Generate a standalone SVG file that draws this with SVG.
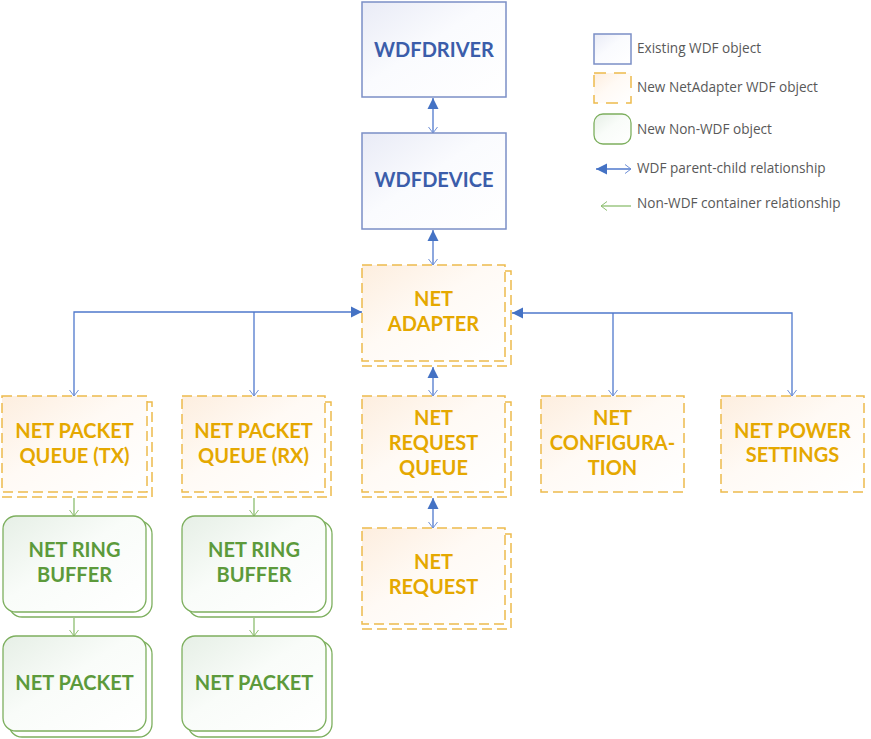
<svg xmlns="http://www.w3.org/2000/svg" width="871" height="739" viewBox="0 0 871 739">
<defs>
<linearGradient id="gb" x1="0" y1="0" x2="1" y2="1"><stop offset="0" stop-color="#E9EBF6"/><stop offset="0.45" stop-color="#FAFBFE"/><stop offset="1" stop-color="#FFFFFF"/></linearGradient>
<linearGradient id="go" x1="0" y1="0" x2="1" y2="1"><stop offset="0" stop-color="#FDEEDF"/><stop offset="0.45" stop-color="#FFFAF5"/><stop offset="1" stop-color="#FFFFFF"/></linearGradient>
<linearGradient id="gg" x1="0" y1="0" x2="1" y2="1"><stop offset="0" stop-color="#E6EFE6"/><stop offset="0.45" stop-color="#F9FCF9"/><stop offset="1" stop-color="#FFFFFF"/></linearGradient>
<marker id="fa" markerUnits="userSpaceOnUse" markerWidth="12" markerHeight="12" viewBox="0 0 12 12" refX="11" refY="6" orient="auto-start-reverse"><path d="M0,0.5 L11,6 L0,11.5 Z" fill="#4472C4"/></marker>
<marker id="oa" markerUnits="userSpaceOnUse" markerWidth="10" markerHeight="12" viewBox="0 0 10 12" refX="6" refY="6" orient="auto-start-reverse"><path d="M0,1.5 L6,6 L0,10.5" fill="none" stroke="#6E8FD6" stroke-width="1"/></marker>
<marker id="og" markerUnits="userSpaceOnUse" markerWidth="10" markerHeight="12" viewBox="0 0 10 12" refX="6" refY="6" orient="auto-start-reverse"><path d="M0,1.5 L6,6 L0,10.5" fill="none" stroke="#8DBE70" stroke-width="1"/></marker>
</defs>
<style>
.bb{fill:url(#gb);stroke:#7B8FC6;stroke-width:1.5}
.ob{fill:url(#go);stroke:#EDBB4C;stroke-width:1.5;stroke-dasharray:10 5}
.obk{fill:none;stroke:#EDBB4C;stroke-width:1.5;stroke-dasharray:10 5}
.gb{fill:url(#gg);stroke:#7DAF5E;stroke-width:1.3}
.gbk{fill:#FFFFFF;stroke:#7DAF5E;stroke-width:1.3}
.tb{font-family:Lato,"Open Sans",sans-serif;font-weight:bold;font-size:20px;fill:#3B5DAA;text-anchor:middle}
.to{font-family:Lato,"Open Sans",sans-serif;font-weight:bold;font-size:20px;fill:#E5A800;text-anchor:middle}
.tg{font-family:Lato,"Open Sans",sans-serif;font-weight:bold;font-size:20px;fill:#5C9A3B;text-anchor:middle}
.tl{font-family:"Open Sans","Noto Sans",sans-serif;font-size:13.6px;fill:#595959}
.cb{fill:none;stroke:#4F78CC;stroke-width:1.3}
.cg{fill:none;stroke:#8DBE70;stroke-width:1.3}
</style>
<g id="connectors">
<line class="cb" x1="433" y1="98" x2="433" y2="133" marker-start="url(#fa)" marker-end="url(#oa)"/>
<line class="cb" x1="433" y1="230" x2="433" y2="265" marker-start="url(#fa)" marker-end="url(#oa)"/>
<line class="cb" x1="433" y1="367" x2="433" y2="396" marker-start="url(#fa)" marker-end="url(#oa)"/>
<line class="cb" x1="433" y1="498" x2="433" y2="528" marker-start="url(#fa)" marker-end="url(#oa)"/>
<path class="cb" d="M74,396 V312 H362" marker-start="url(#oa)" marker-end="url(#fa)"/>
<path class="cb" d="M254,396 V312" marker-start="url(#oa)"/>
<path class="cb" d="M792,396 V313 H512" marker-start="url(#oa)" marker-end="url(#fa)"/>
<path class="cb" d="M613,396 V313" marker-start="url(#oa)"/>
<line class="cg" x1="74" y1="498" x2="74" y2="516" marker-end="url(#og)"/>
<line class="cg" x1="254" y1="498" x2="254" y2="516" marker-end="url(#og)"/>
<line class="cg" x1="74" y1="618" x2="74" y2="636" marker-end="url(#og)"/>
<line class="cg" x1="254" y1="618" x2="254" y2="636" marker-end="url(#og)"/>
</g>
<g id="wdfdriver"><rect class="bb" x="362" y="2" width="144" height="95"/><text class="tb" x="434" y="57">WDFDRIVER</text></g>
<g id="wdfdevice"><rect class="bb" x="362" y="133" width="144" height="96"/><text class="tb" x="434" y="187">WDFDEVICE</text></g>
<g id="netadapter"><path class="obk" d="M505,271 H511 V366 H362"/><rect class="ob" x="362" y="265" width="143" height="96"/><text class="to" x="433.5" y="306">NET</text><text class="to" x="433.5" y="331">ADAPTER</text></g>
<g id="txqueue"><path class="obk" d="M147,402 H152 V497 H2"/><rect class="ob" x="2" y="396" width="145" height="96"/><text class="to" x="74.5" y="438">NET PACKET</text><text class="to" x="74.5" y="463">QUEUE (TX)</text></g>
<g id="rxqueue"><path class="obk" d="M325,402 H331 V497 H182"/><rect class="ob" x="182" y="396" width="143" height="96"/><text class="to" x="253.5" y="438">NET PACKET</text><text class="to" x="253.5" y="463">QUEUE (RX)</text></g>
<g id="requestqueue"><path class="obk" d="M505,402 H511 V497 H362"/><rect class="ob" x="362" y="396" width="143" height="96"/><text class="to" x="433.5" y="425">NET</text><text class="to" x="433.5" y="450">REQUEST</text><text class="to" x="433.5" y="475">QUEUE</text></g>
<g id="configuration"><rect class="ob" x="541" y="396" width="143" height="96"/><text class="to" x="612.5" y="425">NET</text><text class="to" x="612.5" y="450">CONFIGURA-</text><text class="to" x="612.5" y="475">TION</text></g>
<g id="powersettings"><rect class="ob" x="721" y="396" width="143" height="96"/><text class="to" x="792.5" y="438">NET POWER</text><text class="to" x="792.5" y="462">SETTINGS</text></g>
<g id="request"><path class="obk" d="M505,534 H511 V629 H362"/><rect class="ob" x="362" y="528" width="143" height="96"/><text class="to" x="433.5" y="569">NET</text><text class="to" x="433.5" y="594">REQUEST</text></g>
<g id="ringtx"><rect class="gbk" x="9" y="521" width="143" height="96" rx="13"/><rect class="gb" x="3" y="516" width="143" height="96" rx="13"/><text class="tg" x="74.5" y="557">NET RING</text><text class="tg" x="74.5" y="582">BUFFER</text></g>
<g id="ringrx"><rect class="gbk" x="188" y="521" width="144" height="96" rx="13"/><rect class="gb" x="182" y="516" width="144" height="96" rx="13"/><text class="tg" x="254" y="557">NET RING</text><text class="tg" x="254" y="582">BUFFER</text></g>
<g id="packettx"><rect class="gbk" x="9" y="641" width="143" height="96" rx="13"/><rect class="gb" x="3" y="636" width="143" height="95" rx="13"/><text class="tg" x="74.5" y="690">NET PACKET</text></g>
<g id="packetrx"><rect class="gbk" x="188" y="641" width="144" height="96" rx="13"/><rect class="gb" x="182" y="636" width="144" height="95" rx="13"/><text class="tg" x="254" y="690">NET PACKET</text></g>
<g id="legend">
<rect class="bb" x="594" y="34" width="37" height="30"/><text class="tl" x="637" y="53">Existing WDF object</text>
<rect class="ob" x="594" y="73" width="37" height="30" style="stroke-dasharray:12 8"/><text class="tl" x="637" y="92">New NetAdapter WDF object</text>
<rect class="gb" x="594" y="114" width="37" height="30" rx="9"/><text class="tl" x="637" y="134">New Non-WDF object</text>
<line class="cb" x1="596" y1="169" x2="631" y2="169" marker-start="url(#fa)" marker-end="url(#oa)"/><text class="tl" x="637" y="173">WDF parent-child relationship</text>
<line class="cg" x1="601" y1="206" x2="631" y2="206" marker-start="url(#og)"/><text class="tl" x="637" y="208">Non-WDF container relationship</text>
</g>
</svg>
